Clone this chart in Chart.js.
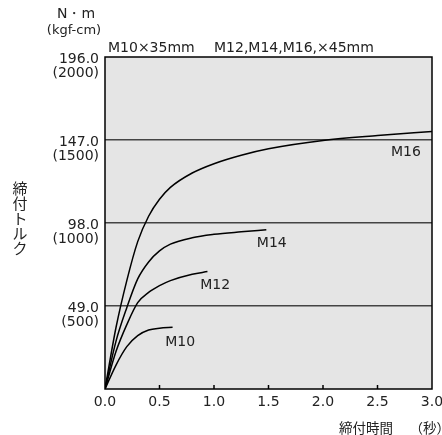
<!DOCTYPE html>
<html>
<head>
<meta charset="utf-8">
<script src="https://cdn.jsdelivr.net/npm/chart.js@4/dist/chart.umd.min.js"></script>
<style>
  html, body { margin: 0; padding: 0; background: #fff; }
  #wrap { width: 442px; height: 435px; }
</style>
</head>
<body>
<div id="wrap"><canvas id="chart" width="442" height="435"></canvas></div>
<script>
// tightening time (s) / torque (N·m)
const m16Time   = [0, 0.1, 0.2, 0.3, 0.4, 0.5, 0.6, 0.8, 1.0, 1.25, 1.5, 2.0, 2.5, 3.0];
const m16Torque = [0, 36, 64, 87, 102, 112, 119, 127.5, 133, 138, 141.8, 146.7, 149.6, 152];
const m14Time   = [0, 0.1, 0.2, 0.3, 0.4, 0.5, 0.6, 0.8, 1.0, 1.25, 1.48];
const m14Torque = [0, 28, 48, 65, 75, 81.5, 85.5, 89.3, 91.3, 92.8, 94];
const m12Time   = [0, 0.1, 0.2, 0.3, 0.4, 0.5, 0.6, 0.8, 0.94];
const m12Torque = [0, 22, 38, 51, 57, 61, 64, 67.8, 69.3];
const m10Time   = [0, 0.1, 0.2, 0.3, 0.4, 0.5, 0.62];
const m10Torque = [0, 14, 25, 31.5, 34.8, 35.9, 36.4];

const seriesNames = ['M16', 'M14', 'M12', 'M10'];
// where each curve name sits (time, torque)
const nameTime   = [2.76, 1.53, 1.01, 0.69];
const nameTorque = [139.9, 86.2, 61.4, 27.7];

const yTicks   = [49, 98, 147, 196];
const yTickNm  = ['49.0', '98.0', '147.0', '196.0'];
const yTickKgf = ['(500)', '(1000)', '(1500)', '(2000)'];
const xTicks   = [0, 0.5, 1.0, 1.5, 2.0, 2.5, 3.0];

const pts = (xs, ys) => xs.map((x, i) => ({ x: x, y: ys[i] }));

const line = (label, data) => ({
    label: label,
    data: data,
    borderColor: '#000',
    borderWidth: 1.5,
    pointRadius: 0,
    fill: false,
    cubicInterpolationMode: 'monotone'
});

const numFont = '14px "DejaVu Sans"';
const jpFont = '15px "Noto Sans CJK JP"';

const decor = {
    id: 'decor',
    beforeDraw(chart) {
        const { ctx, chartArea: a } = chart;
        ctx.save();
        ctx.fillStyle = '#e5e5e5';
        ctx.fillRect(a.left, a.top, a.right - a.left, a.bottom - a.top);
        ctx.restore();
    },
    afterDraw(chart) {
        const { ctx, chartArea: a } = chart;
        const xs = chart.scales.x, ys = chart.scales.y;
        ctx.save();
        ctx.strokeStyle = '#000';
        ctx.lineWidth = 1.5;
        ctx.strokeRect(a.left, a.top, a.right - a.left, a.bottom - a.top);

        // small ticks on the time axis, pointing up
        xTicks.slice(1, -1).forEach(t => {
            const px = xs.getPixelForValue(t);
            ctx.beginPath();
            ctx.moveTo(px, a.bottom);
            ctx.lineTo(px, a.bottom - 4);
            ctx.stroke();
        });

        ctx.fillStyle = '#222';
        ctx.font = numFont;
        ctx.textBaseline = 'middle';

        // y labels, N·m with kgf-cm under it
        ctx.textAlign = 'right';
        yTicks.forEach((v, i) => {
            const py = ys.getPixelForValue(v);
            ctx.fillText(yTickNm[i], a.left - 6, py + 2);
            ctx.fillText(yTickKgf[i], a.left - 6, py + 16.5);
        });

        // x labels
        ctx.textAlign = 'center';
        xTicks.forEach(t => {
            ctx.fillText(t.toFixed(1), xs.getPixelForValue(t), a.bottom + 13);
        });

        // curve names
        seriesNames.forEach((n, i) => {
            ctx.fillText(n, xs.getPixelForValue(nameTime[i]), ys.getPixelForValue(nameTorque[i]));
        });

        // unit and header
        ctx.fillText('N・m', 76, 14);
        ctx.font = '13px "DejaVu Sans"';
        ctx.fillText('(kgf-cm)', 74, 31);
        ctx.font = numFont;
        ctx.textAlign = 'left';
        ctx.fillText('M10×35mm', 108, 48);
        ctx.fillText('M12,M14,M16,×45mm', 214, 48);

        // axis titles
        ctx.font = jpFont;
        ctx.textAlign = 'center';
        '締付トルク'.split('').forEach((c, i) => {
            ctx.fillText(c, 20, 188 + i * 15);
        });
        ctx.font = '13.5px "Noto Sans CJK JP"';
        ctx.textAlign = 'left';
        ctx.fillText('締付時間　 （秒）', 339, 428);
        ctx.restore();
    }
};

new Chart(document.getElementById('chart').getContext('2d'), {
    type: 'line',
    data: {
        datasets: [
            line('M16', pts(m16Time, m16Torque)),
            line('M14', pts(m14Time, m14Torque)),
            line('M12', pts(m12Time, m12Torque)),
            line('M10', pts(m10Time, m10Torque))
        ]
    },
    options: {
        responsive: false,
        animation: false,
        layout: { padding: { left: 105, top: 57, right: 10, bottom: 46 } },
        plugins: { legend: { display: false }, tooltip: { enabled: false } },
        scales: {
            x: {
                type: 'linear', min: 0, max: 3,
                display: false
            },
            y: {
                type: 'linear', min: 0, max: 196,
                afterBuildTicks: s => { s.ticks = yTicks.slice(0, 3).map(v => ({ value: v })); },
                ticks: { display: false },
                grid: { color: '#444', lineWidth: 1.5, drawTicks: false },
                border: { display: false }
            }
        }
    },
    plugins: [decor]
});
</script>
</body>
</html>
